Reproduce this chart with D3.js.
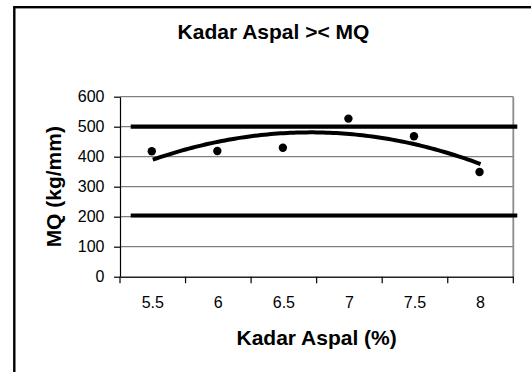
<!DOCTYPE html>
<html><head><meta charset="utf-8">
<script src="https://cdn.jsdelivr.net/npm/d3@7"></script>
<style>
body{margin:0;background:#fff}
svg{display:block}
text{font-family:"Liberation Sans",Arial,sans-serif;fill:#000}
</style></head>
<body><svg id="c" width="531" height="372"></svg>
<script>
// ---- data ----
const categories = ["5.5","6","6.5","7","7.5","8"];
const xNumeric = [5.5,6,6.5,7,7.5,8];
const mqValues = [418,419,430,527,468,349];
const yTicks = [0,100,200,300,400,500,600];
const limitValues = [500,204];
const titleText = "Kadar Aspal >< MQ";
const xTitle = "Kadar Aspal (%)";
const yTitle = "MQ (kg/mm)";

// ---- layout ----
const L = 120, R = 513.3, T = 96.7, B = 276.7;
const svg = d3.select("#c");

// outer frame
svg.append("rect").attr("x",14.3).attr("y",7.2).attr("width",600).attr("height",500)
  .attr("fill","none").attr("stroke","#000").attr("stroke-width",2.4);

const x = d3.scaleBand().domain(categories).range([L,R]).padding(0);
const y = d3.scaleLinear().domain([0,600]).range([B,T]);
const xc = d => x(d) + x.bandwidth()/2;

// gridlines
svg.append("g").selectAll("line").data(yTicks.filter(v=>v>0)).join("line")
  .attr("x1",L).attr("x2",R).attr("y1",d=>y(d)).attr("y2",d=>y(d))
  .attr("stroke","#808080").attr("stroke-width",1.2);
// right border
svg.append("line").attr("x1",R).attr("x2",R).attr("y1",T).attr("y2",B)
  .attr("stroke","#8c8c8c").attr("stroke-width",1.8);

// y axis
const yAxis = svg.append("g").attr("transform",`translate(${L},0)`)
  .call(d3.axisLeft(y).tickValues(yTicks).tickSize(6).tickPadding(9.5).tickSizeOuter(0));
yAxis.select(".domain").attr("stroke","#000").attr("stroke-width",1.2);
yAxis.selectAll(".tick line").attr("stroke","#000").attr("stroke-width",1.2);
yAxis.selectAll("text").attr("font-size",16).attr("fill","#000")
  .style("font-family",'"Liberation Sans",Arial,sans-serif');

// x axis
const xAxis = svg.append("g").attr("transform",`translate(0,${B})`)
  .call(d3.axisBottom(x).tickSize(0).tickPadding(20).tickSizeOuter(0));
xAxis.select(".domain").attr("stroke","#222").attr("stroke-width",1.6);
xAxis.selectAll("text").attr("font-size",16).attr("fill","#000")
  .style("font-family",'"Liberation Sans",Arial,sans-serif');
const bounds = categories.map(c=>x(c)).concat([R]);
svg.append("g").selectAll("line").data(bounds).join("line")
  .attr("x1",d=>d).attr("x2",d=>d).attr("y1",B).attr("y2",B+6.5)
  .attr("stroke","#000").attr("stroke-width",1.2);

// limit lines
svg.append("g").selectAll("line").data(limitValues).join("line")
  .attr("x1",L+10.7).attr("x2",R+4).attr("y1",d=>y(d)).attr("y2",d=>y(d))
  .attr("stroke","#000").attr("stroke-width",4.2);

// quadratic trendline (least squares from data)
(function(){
  const n = xNumeric.length;
  let S=[0,0,0,0,0], Sy=[0,0,0];
  for(let i=0;i<n;i++){const t=xNumeric[i], v=mqValues[i];
    for(let k=0;k<5;k++) S[k]+=Math.pow(t,k);
    for(let k=0;k<3;k++) Sy[k]+=v*Math.pow(t,k);}
  const M=[[S[0],S[1],S[2],Sy[0]],[S[1],S[2],S[3],Sy[1]],[S[2],S[3],S[4],Sy[2]]];
  for(let i=0;i<3;i++){for(let j=i+1;j<3;j++){const f=M[j][i]/M[i][i];for(let k=i;k<4;k++)M[j][k]-=f*M[i][k];}}
  const c=[0,0,0];
  for(let i=2;i>=0;i--){let s=M[i][3];for(let k=i+1;k<3;k++)s-=M[i][k]*c[k];c[i]=s/M[i][i];}
  const xn = d3.scaleLinear().domain([xNumeric[0],xNumeric[n-1]]).range([xc(categories[0]),xc(categories[n-1])]);
  const pts = d3.range(0,101).map(i=>{const t=xNumeric[0]+(xNumeric[n-1]-xNumeric[0])*i/100;return [xn(t), y(c[0]+c[1]*t+c[2]*t*t)];});
  svg.append("path").attr("d",d3.line()(pts)).attr("fill","none").attr("stroke","#000").attr("stroke-width",4);
})();

// points
svg.append("g").selectAll("circle").data(mqValues).join("circle")
  .attr("cx",(d,i)=>xc(categories[i])-1).attr("cy",d=>y(d)).attr("r",4.2).attr("fill","#000");

// titles
svg.append("text").attr("x",273.5).attr("y",39.3).attr("text-anchor","middle")
  .attr("font-size",21).attr("font-weight","bold").text(titleText);
svg.append("text").attr("x",(L+R)/2).attr("y",345).attr("text-anchor","middle")
  .attr("font-size",21).attr("font-weight","bold").text(xTitle);
svg.append("text").attr("transform",`translate(61,${(T+B)/2}) rotate(-90)`).attr("text-anchor","middle")
  .attr("font-size",21).attr("font-weight","bold").text(yTitle);
</script></body></html>
